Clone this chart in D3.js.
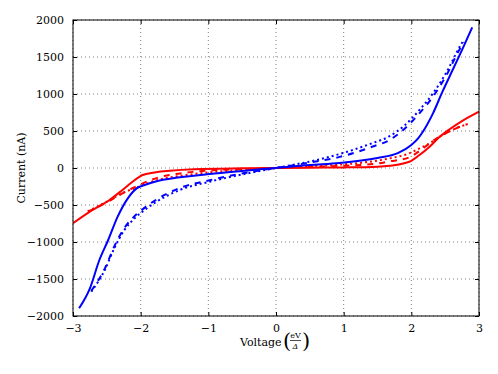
<!DOCTYPE html>
<html><head><meta charset="utf-8">
<script src="https://cdn.jsdelivr.net/npm/d3@7"></script>
<style>
body{margin:0;background:#fff;}
text{font-family:"DejaVu Serif",serif;fill:#000;}
</style></head>
<body><svg id="c" width="498" height="374"></svg>
<script>
const xTicks=[-3,-2,-1,0,1,2,3];
const yTicks=[-2000,-1500,-1000,-500,0,500,1000,1500,2000];

const blueSolidV=[-2.91,-2.75,-2.61,-2.48,-2.34,-2.19,-2.06,-1.94,-1.79,-1.42,-0.98,-0.5,0,0.5,0.94,1.5,1.8,2.0,2.1,2.17,2.32,2.46,2.61,2.76,2.9];
const blueSolidI=[-1896,-1626,-1243,-973,-658,-410,-275,-230,-185,-126,-81,-40,0,40,67,135,200,311,400,490,739,1031,1324,1617,1901];

const blueDottedV=[-2.73,-2.53,-2.39,-2.24,-2.09,-1.94,-1.79,-1.42,-0.98,-0.54,-0.24,0,0.24,0.54,0.94,1.43,1.68,1.9,2.12,2.32,2.51,2.73,2.77];
const blueDottedI=[-1671,-1378,-1085,-838,-680,-567,-470,-297,-185,-95,-41,0,41,95,189,338,430,575,784,1009,1279,1662,1720];

const blueDashedV=[-2.73,-2.53,-2.39,-2.24,-2.09,-1.94,-1.79,-1.42,-0.98,-0.54,-0.24,0,0.24,0.54,0.94,1.43,1.68,1.9,2.12,2.32,2.51,2.73,2.78];
const blueDashedI=[-1660,-1360,-1060,-810,-650,-535,-440,-270,-165,-80,-33,0,33,80,150,290,380,530,740,965,1240,1630,1700];

const redSolidV=[-3,-2.71,-2.46,-2.27,-2.12,-1.97,-1.82,-1.2,-0.5,0,0.5,1.0,1.5,1.68,1.97,2.12,2.27,2.41,2.56,2.76,3.0];
const redSolidI=[-747,-567,-432,-297,-185,-95,-63,-18,-5,0,5,8,18,31,85,176,288,414,520,640,761];

const redDashedV=[-2.78,-2.51,-2.27,-2.02,-1.85,-1.2,-0.5,0,0.5,0.94,1.5,1.68,1.97,2.12,2.27,2.46,2.66,2.83];
const redDashedI=[-590,-468,-342,-230,-162,-50,-15,0,15,27,60,90,144,230,333,446,536,594];

const redDottedV=[-2.78,-2.51,-2.27,-2.02,-1.85,-1.2,-0.5,0,0.5,0.94,1.5,1.68,1.97,2.12,2.27,2.46,2.66,2.83];
const redDottedI=[-585,-460,-340,-250,-190,-80,-25,0,25,45,100,130,198,265,333,446,536,594];

const L=73,R=479,T=20,B=316;
const svg=d3.select("#c");
const x=d3.scaleLinear().domain([-3,3]).range([L,R]);
const y=d3.scaleLinear().domain([-2000,2000]).range([B,T]);
const fmt=d=>d<0?"\u2212"+Math.abs(d):String(d);

// grid
const g=svg.append("g");
xTicks.forEach(t=>g.append("line").attr("x1",x(t)).attr("x2",x(t)).attr("y1",T).attr("y2",B)
  .attr("stroke","#000").attr("stroke-width",0.5).attr("stroke-dasharray","1,3"));
yTicks.forEach(t=>g.append("line").attr("x1",L).attr("x2",R).attr("y1",y(t)).attr("y2",y(t))
  .attr("stroke","#000").attr("stroke-width",0.5).attr("stroke-dasharray","1,3"));

// lines
svg.append("clipPath").attr("id","cp").append("rect").attr("x",L).attr("y",T).attr("width",R-L).attr("height",B-T);
const line=d3.line().x(d=>x(d[0])).y(d=>y(d[1])).curve(d3.curveMonotoneX);
const series=[
 [redDottedV,redDottedI,"#ff0000","2,3"],
 [redDashedV,redDashedI,"#ff0000","6,6"],
 [blueDottedV,blueDottedI,"#0000ff","2,3"],
 [blueDashedV,blueDashedI,"#0000ff","6,6"],
 [redSolidV,redSolidI,"#ff0000",null],
 [blueSolidV,blueSolidI,"#0000ff",null]
];
series.forEach(s=>{
  const p=svg.append("path").datum(d3.zip(s[0],s[1])).attr("d",line)
   .attr("fill","none").attr("stroke",s[2]).attr("stroke-width",2).attr("clip-path","url(#cp)");
  if(s[3]) p.attr("stroke-dasharray",s[3]);
});

// axes
const ax=svg.append("g");
ax.append("g").attr("transform",`translate(0,${B})`).call(d3.axisBottom(x).tickValues(xTicks).tickSizeInner(-4).tickSizeOuter(0).tickPadding(8).tickFormat(fmt));
ax.append("g").attr("transform",`translate(0,${T})`).call(d3.axisTop(x).tickValues(xTicks).tickSizeInner(-4).tickSizeOuter(0).tickFormat(""));
ax.append("g").attr("transform",`translate(${L},0)`).call(d3.axisLeft(y).tickValues(yTicks).tickSizeInner(-4).tickSizeOuter(0).tickPadding(9).tickFormat(fmt));
ax.append("g").attr("transform",`translate(${R},0)`).call(d3.axisRight(y).tickValues(yTicks).tickSizeInner(-4).tickSizeOuter(0).tickFormat(""));
ax.selectAll(".domain").remove();
ax.selectAll("text").style("font-family","DejaVu Serif").style("font-size","11px").attr("fill","#000");
ax.selectAll(".tick line").attr("stroke","#000");
svg.append("rect").attr("x",L).attr("y",T).attr("width",R-L).attr("height",B-T).attr("fill","none").attr("stroke","#000").attr("stroke-width",1);

// labels
svg.append("text").attr("transform","translate(25,168) rotate(-90)").attr("text-anchor","middle")
  .style("font-size","11px").text("Current (nA)");
svg.append("text").attr("x",240).attr("y",346).style("font-size","11px").text("Voltage");
svg.append("text").attr("x",283).attr("y",348).style("font-size","21px").style("font-weight","200").text("(");
svg.append("text").attr("x",295.5).attr("y",338).attr("text-anchor","middle").style("font-size","8px").text("eV");
svg.append("line").attr("x1",290).attr("x2",301).attr("y1",340.5).attr("y2",340.5).attr("stroke","#000").attr("stroke-width",0.7);
svg.append("text").attr("x",295.5).attr("y",348.5).attr("text-anchor","middle").style("font-size","8px").style("font-style","italic").text("\u0394");
svg.append("text").attr("x",302).attr("y",348).style("font-size","21px").style("font-weight","200").text(")");
</script></body></html>
